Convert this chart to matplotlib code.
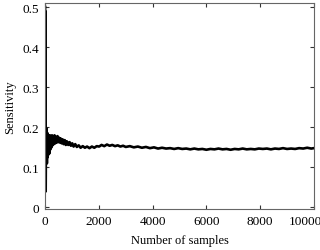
import numpy as np
import matplotlib.pyplot as plt
import matplotlib.transforms as mtransforms

plt.rcParams['font.family'] = ['Liberation Serif', 'DejaVu Serif']

# values
samples = [0, 3, 6, 9, 12, 15, 18, 21, 25, 30, 36, 42, 50, 58, 66, 75, 85, 95, 105, 118, 130,
           145, 160, 178, 196, 215, 235, 255, 275, 300, 325, 350, 375, 400, 430, 460,
           490, 520, 550, 580, 615, 650, 690, 730, 770, 810, 860, 910, 960, 1010, 1060,
           1120, 1180, 1250, 1320, 1400, 1480, 1560, 1650, 1740, 1830, 1920, 2010, 2100,
           2200, 2300, 2400, 2500, 2600, 2700, 2800, 2900, 3000, 3150, 3300, 3450, 3600,
           3750, 3900, 4050, 4200, 4350, 4500, 4650, 4800, 4950, 5100, 5250, 5400, 5550,
           5700, 5850, 6000, 6150, 6300, 6450, 6600, 6750, 6900, 7050, 7200, 7350, 7500,
           7650, 7800, 7950, 8100, 8250, 8400, 8550, 8700, 8850, 9000, 9150, 9300, 9450,
           9600, 9750, 9900, 10000]
sensitivity = [0.50, 0.22, 0.49, 0.18, 0.45, 0.12, 0.40, 0.04, 0.09, 0.20, 0.11,
               0.19, 0.12, 0.195, 0.11, 0.18, 0.125, 0.185, 0.13, 0.18, 0.14, 0.178,
               0.135, 0.18, 0.145, 0.176, 0.15, 0.18, 0.155, 0.178, 0.158, 0.18, 0.16,
               0.176, 0.162, 0.178, 0.163, 0.174, 0.162, 0.172, 0.16, 0.17, 0.158,
               0.168, 0.156, 0.165, 0.156, 0.163, 0.154, 0.16, 0.152, 0.158, 0.151,
               0.155, 0.149, 0.153, 0.149, 0.152, 0.148, 0.152, 0.149, 0.153, 0.152,
               0.156, 0.153, 0.157, 0.154, 0.156, 0.153, 0.155, 0.152, 0.154, 0.151,
               0.153, 0.150, 0.152, 0.149, 0.151, 0.148, 0.150, 0.147, 0.149, 0.147,
               0.148, 0.146, 0.148, 0.146, 0.147, 0.145, 0.147, 0.145, 0.146, 0.144,
               0.146, 0.145, 0.147, 0.145, 0.146, 0.144, 0.146, 0.145, 0.147, 0.145,
               0.146, 0.145, 0.147, 0.146, 0.147, 0.145, 0.147, 0.146, 0.148, 0.146,
               0.147, 0.146, 0.148, 0.147, 0.149, 0.147, 0.148]

x_ticks = [0, 2000, 4000, 6000, 8000, 10000]
y_ticks = [0, 0.1, 0.2, 0.3, 0.4, 0.5]
y_labels = ['0', '0.1', '0.2', '0.3', '0.4', '0.5']

fig = plt.figure(figsize=(3.2, 2.51), dpi=100)
ax = fig.add_axes([0.141, 0.163, 0.840, 0.821])
ax.plot(samples, sensitivity, color='black', lw=1.9, solid_joinstyle='round')

ax.set_xlim(0, 10000)
ax.set_ylim(-0.004, 0.51)
ax.set_xticks(x_ticks)
ax.set_xticklabels([str(t) for t in x_ticks])
ax.set_yticks(y_ticks)
ax.set_yticklabels(y_labels)
ax.tick_params(direction='in', length=3, width=0.8, labelsize=9.5,
               top=True, right=True, pad=4.5, colors='#333333', labelcolor='black')
for s in ax.spines.values():
    s.set_color('#666666')
    s.set_linewidth(0.8)

# last tick label sits a bit to the left in the reference
lbl = ax.get_xticklabels()[-1]
lbl.set_transform(lbl.get_transform() + mtransforms.ScaledTranslation(-0.09, 0, fig.dpi_scale_trans))

ax.set_xlabel('Number of samples', fontsize=9, labelpad=5)
ax.set_ylabel('Sensitivity', fontsize=9, labelpad=4)

fig.savefig('out.png', dpi=100)
